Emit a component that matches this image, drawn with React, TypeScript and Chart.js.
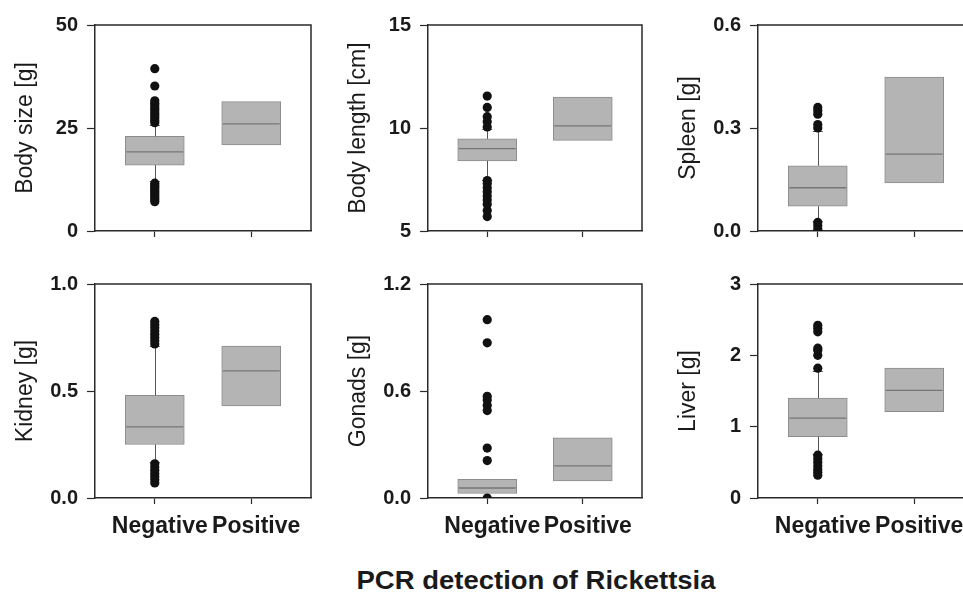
import React, { useEffect, useRef } from 'react';
import { Chart, registerables } from 'chart.js';

Chart.register(...registerables);

// ---------------- data ----------------
const groups = ['Negative', 'Positive'];
const groupPositions = [1, 2];
const xAxisTitle = 'PCR detection of Rickettsia';

const panelLabels = ['Body size [g]', 'Body length [cm]', 'Spleen [g]', 'Kidney [g]', 'Gonads [g]', 'Liver [g]'];
const yMin = [0, 5, 0, 0, 0, 0];
const yMax = [50, 15, 0.6, 1.0, 1.2, 3];
const yTicks = [
  [0, 25, 50],
  [5, 10, 15],
  [0, 0.3, 0.6],
  [0, 0.5, 1.0],
  [0, 0.6, 1.2],
  [0, 1, 2, 3],
];
const yDecimals = [0, 0, 1, 1, 1, 0];

// Negative group box statistics (per panel)
const negQ1 = [16.0, 8.4, 0.072, 0.25, 0.025, 0.86];
const negMedian = [19.2, 9.0, 0.126, 0.332, 0.056, 1.12];
const negQ3 = [23.0, 9.47, 0.19, 0.48, 0.105, 1.4];
const negWhiskerLow = [12.2, 7.5, 0.03, 0.17, null, 0.62];
const negWhiskerHigh = [25.8, 9.95, 0.29, 0.71, null, 1.78];

// Positive group box statistics (per panel)
const posQ1 = [20.9, 9.4, 0.14, 0.43, 0.096, 1.21];
const posMedian = [26.0, 10.1, 0.224, 0.594, 0.18, 1.51];
const posQ3 = [31.4, 11.5, 0.448, 0.71, 0.337, 1.82];
const posWhiskerLow = [null, null, null, null, null, null];
const posWhiskerHigh = [null, null, null, null, null, null];

// Outliers of the Negative group
const bodySizeOutliers = [26.3, 26.8, 27.4, 28.0, 28.6, 29.2, 29.8, 30.4, 31.0, 31.6, 35.2, 39.4, 11.6, 11.1, 10.6, 10.1, 9.6, 9.1, 8.6, 8.1, 7.6, 7.1];
const bodyLengthOutliers = [10.05, 10.3, 10.55, 11.0, 11.55, 7.45, 7.3, 7.1, 6.9, 6.7, 6.5, 6.3, 6.0, 5.7];
const spleenOutliers = [0.3, 0.31, 0.34, 0.35, 0.36, 0.025, 0.015, 0.005];
const kidneyOutliers = [0.72, 0.735, 0.75, 0.765, 0.78, 0.795, 0.81, 0.825, 0.16, 0.145, 0.13, 0.115, 0.1, 0.085, 0.07];
const gonadsOutliers = [1.0, 0.87, 0.57, 0.55, 0.52, 0.49, 0.28, 0.21, 0.0];
const liverOutliers = [1.82, 2.0, 2.07, 2.1, 2.33, 2.38, 2.42, 0.6, 0.55, 0.5, 0.45, 0.4, 0.36, 0.32];
const negOutliers = [bodySizeOutliers, bodyLengthOutliers, spleenOutliers, kidneyOutliers, gonadsOutliers, liverOutliers];

// ---------------- layout & style ----------------
const FONT = '"Liberation Sans", Arial, Helvetica, sans-serif';
const TEXT = '#1a1a1a';
const FRAME = '#2a2a2a';
const BOX_FILL = '#b4b4b4';
const BOX_EDGE = '#8c8c8c';
const MEDIAN = '#767676';
const WHISKER = '#555555';

const COL_PLOT_LEFT = [95, 428, 758];
const COL_PLOT_WIDTH = [216, 214, 216];
const ROW_CANVAS_TOP = [0, 258];
const ROW_PLOT_TOP = [25, 284];
const ROW_PLOT_HEIGHT = [213, 214];
const Y_AXIS_W = 95;
const PAD_RIGHT = 8;

function Panel({ idx, row, col }: { idx: number; row: number; col: number }) {
  const ref = useRef<HTMLCanvasElement>(null);
  const plotLeft = COL_PLOT_LEFT[col];
  const plotW = COL_PLOT_WIDTH[col];
  const plotTop = ROW_PLOT_TOP[row];
  const plotH = ROW_PLOT_HEIGHT[row];
  const canvasLeft = plotLeft - Y_AXIS_W;
  const canvasTop = ROW_CANVAS_TOP[row];
  const padTop = plotTop - canvasTop;
  const showLabels = row === 1;
  const xH = showLabels ? 50 : 14;
  const cw = Y_AXIS_W + plotW + PAD_RIGHT;
  const ch = padTop + plotH + xH;

  useEffect(() => {
    const q1 = [negQ1[idx], posQ1[idx]];
    const q3 = [negQ3[idx], posQ3[idx]];
    const med = [negMedian[idx], posMedian[idx]];
    const wLo = [negWhiskerLow[idx], posWhiskerLow[idx]];
    const wHi = [negWhiskerHigh[idx], posWhiskerHigh[idx]];

    const boxPlugin = {
      id: 'boxExtras',
      afterDatasetDraw(chart: any, args: any) {
        if (args.index !== 0) return;
        const ys = chart.scales.y;
        const ctx = chart.ctx;
        ctx.save();
        args.meta.data.forEach((bar: any, i: number) => {
          const { x, width } = bar.getProps(['x', 'width'], true);
          ctx.strokeStyle = WHISKER;
          ctx.lineWidth = 1;
          const drawWhisker = (from: number, to: number | null) => {
            if (to === null || to === undefined) return;
            const p1 = ys.getPixelForValue(from);
            const p2 = ys.getPixelForValue(to);
            ctx.beginPath();
            ctx.moveTo(Math.round(x) + 0.5, p1);
            ctx.lineTo(Math.round(x) + 0.5, p2);
            ctx.moveTo(x - 5, Math.round(p2) + 0.5);
            ctx.lineTo(x + 5, Math.round(p2) + 0.5);
            ctx.stroke();
          };
          drawWhisker(q3[i], wHi[i]);
          drawWhisker(q1[i], wLo[i]);
          const pm = ys.getPixelForValue(med[i]);
          ctx.strokeStyle = MEDIAN;
          ctx.lineWidth = 1.3;
          ctx.beginPath();
          ctx.moveTo(x - width / 2 + 1, pm);
          ctx.lineTo(x + width / 2 - 1, pm);
          ctx.stroke();
        });
        ctx.restore();
      },
    };

    const framePlugin = {
      id: 'frame',
      afterDraw(chart: any) {
        const { ctx, chartArea } = chart;
        const { left, right, top, bottom } = chartArea;
        ctx.save();
        ctx.strokeStyle = FRAME;
        ctx.lineWidth = 1.5;
        ctx.beginPath();
        ctx.moveTo(left, top);
        ctx.lineTo(right, top);
        ctx.lineTo(right, bottom);
        ctx.stroke();
        ctx.restore();
      },
    };

    const chart = new Chart(ref.current as HTMLCanvasElement, {
      type: 'bar',
      data: {
        datasets: [
          {
            type: 'bar',
            order: 2,
            data: groupPositions.map((x, g) => ({ x, y: [q1[g], q3[g]] })) as any,
            backgroundColor: BOX_FILL,
            borderColor: BOX_EDGE,
            borderWidth: 1,
            borderSkipped: false,
            barThickness: 59,
            grouped: false,
          } as any,
          {
            type: 'scatter',
            order: 1,
            data: negOutliers[idx].map((v) => ({ x: groupPositions[0], y: v })),
            pointRadius: 4.6,
            pointBackgroundColor: '#111111',
            pointBorderColor: '#111111',
            pointBorderWidth: 0,
            showLine: false,
          } as any,
        ],
      },
      options: {
        responsive: false,
        animation: false,
        events: [],
        layout: { padding: { top: padTop, right: PAD_RIGHT, left: 0, bottom: 0 } },
        plugins: { legend: { display: false }, tooltip: { enabled: false } },
        scales: {
          x: {
            type: 'linear',
            min: 0.38,
            max: 2.62,
            offset: false,
            afterBuildTicks: (scale: any) => {
              scale.ticks = groupPositions.map((v) => ({ value: v }));
            },
            afterFit: (scale: any) => {
              scale.height = xH;
            },
            grid: {
              display: true,
              offset: false,
              drawOnChartArea: false,
              drawTicks: true,
              tickLength: 6,
              tickColor: FRAME,
              tickWidth: 1.2,
            },
            border: { display: true, color: FRAME, width: 1.5 },
            ticks: {
              autoSkip: false,
              maxRotation: 0,
              minRotation: 0,
              padding: 9,
              labelOffset: 5,
              color: TEXT,
              font: { family: FONT, size: 23, weight: 'bold', lineHeight: 1.2 },
              callback: (_v: any, i: number) => (showLabels ? groups[i] : ''),
            },
          },
          y: {
            type: 'linear',
            min: yMin[idx],
            max: yMax[idx],
            afterBuildTicks: (scale: any) => {
              scale.ticks = yTicks[idx].map((v) => ({ value: v }));
            },
            afterFit: (scale: any) => {
              scale.width = Y_AXIS_W;
            },
            grid: {
              display: true,
              drawOnChartArea: false,
              drawTicks: true,
              tickLength: 8,
              tickColor: FRAME,
              tickWidth: 1.2,
            },
            border: { display: true, color: FRAME, width: 1.5 },
            ticks: {
              padding: 9,
              color: TEXT,
              font: { family: FONT, size: 20, weight: 'bold' },
              callback: (v: any) => Number(v).toFixed(yDecimals[idx]),
            },
            title: {
              display: true,
              text: panelLabels[idx],
              color: TEXT,
              padding: { top: 14, bottom: 0 },
              font: { family: FONT, size: 23, weight: 'normal', lineHeight: 1 },
            },
          },
        },
      } as any,
      plugins: [boxPlugin, framePlugin],
    });
    return () => chart.destroy();
  }, []);

  return (
    <canvas
      ref={ref}
      width={cw}
      height={ch}
      style={{ position: 'absolute', left: canvasLeft, top: canvasTop, width: cw, height: ch, display: 'block' }}
    />
  );
}

export default function App() {
  const panels = panelLabels.map((_, i) => ({ idx: i, row: Math.floor(i / 3), col: i % 3 }));
  return (
    <div
      style={{
        position: 'absolute',
        left: 0,
        top: 0,
        width: 963,
        height: 595,
        overflow: 'hidden',
        background: '#ffffff',
      }}
    >
      {panels.map((p) => (
        <Panel key={p.idx} idx={p.idx} row={p.row} col={p.col} />
      ))}
      <div
        style={{
          position: 'absolute',
          left: 535.5,
          top: 568,
          transform: 'translateX(-50%) scaleX(1.1)',
          font: `bold 25px ${FONT}`,
          lineHeight: '25px',
          whiteSpace: 'nowrap',
          color: TEXT,
        }}
      >
        {xAxisTitle}
      </div>
    </div>
  );
}
